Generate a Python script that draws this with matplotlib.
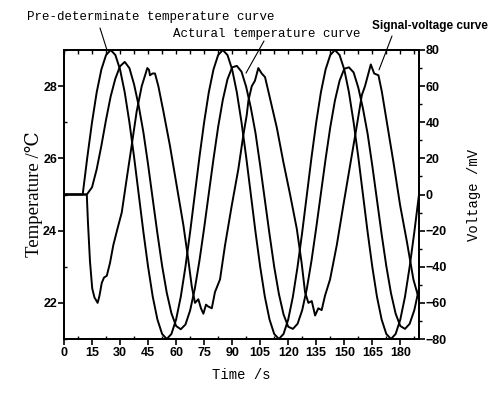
import matplotlib
matplotlib.use('Agg')
import matplotlib.pyplot as plt
import numpy as np
from matplotlib.ticker import MultipleLocator

# pre-determinate temperature (deg C)
t_pre = [0, 10] + list(np.arange(12.5, 190.1, 2.5))
temp_pre = [25.0, 25.0,
            26.04, 27.0, 27.83, 28.46, 28.86, 29.0, 28.86, 28.46, 27.83, 27.0, 26.04, 25.0,
            23.96, 23.0, 22.17, 21.54, 21.14, 21.0, 21.14, 21.54, 22.17, 23.0, 23.96, 25.0,
            26.04, 27.0, 27.83, 28.46, 28.86, 29.0, 28.86, 28.46, 27.83, 27.0, 26.04, 25.0,
            23.96, 23.0, 22.17, 21.54, 21.14, 21.0, 21.14, 21.54, 22.17, 23.0, 23.96, 25.0,
            26.04, 27.0, 27.83, 28.46, 28.86, 29.0, 28.86, 28.46, 27.83, 27.0, 26.04, 25.0,
            23.96, 23.0, 22.17, 21.54, 21.14, 21.0, 21.14, 21.54, 22.17, 23.0, 23.96, 25.0]

# actual temperature (deg C)
t_act = [0, 12] + list(np.arange(12.5, 190.1, 2.5))
temp_act = [25.0, 25.0,
            25.02, 25.2, 25.7, 26.35, 27.07, 27.72, 28.21, 28.55, 28.67, 28.5, 28.05, 27.45,
            26.72, 25.83, 24.87, 23.92, 23.03, 22.28, 21.71, 21.36, 21.27, 21.4, 21.79, 22.39,
            23.17, 24.07, 25.03, 25.98, 26.87, 27.62, 28.19, 28.52, 28.56, 28.4, 27.98, 27.4,
            26.7, 25.8, 24.85, 23.9, 23.0, 22.25, 21.68, 21.34, 21.28, 21.42, 21.8, 22.4,
            23.18, 24.08, 25.03, 25.98, 26.86, 27.6, 28.15, 28.48, 28.52, 28.38, 27.96, 27.38,
            26.68, 25.8, 24.85, 23.9, 23.02, 22.27, 21.7, 21.36, 21.28, 21.42, 21.8, 22.4]

# signal voltage (mV)
t_volt = [0, 12.2, 12.8, 13.9, 15.1, 16.3, 18.0, 19.0, 20.2, 21.4, 22.9, 24.6, 26.4, 28.6,
          30.9, 33.6, 36.2, 38.9, 41.6, 43.1, 44.6, 45.5, 46.0, 47.4, 48.7, 50.5, 53.2, 56.7,
          60.3, 63.9, 66.5, 68.4, 70.1, 71.9, 73.3, 74.6, 76.0, 77.2, 79.1, 80.8, 83.5, 86.2,
          89.8, 93.3, 96.0, 97.8, 98.7, 100.5, 102.2, 104.0, 105.8, 107.6, 110.3, 113.9, 117.4,
          121.0, 124.6, 127.2, 129.0, 130.8, 132.6, 134.4, 136.1, 137.9, 139.7, 142.4, 146.0,
          149.5, 153.1, 156.7, 159.4, 161.1, 162.4, 164.2, 166.0, 168.3, 170.1, 172.8, 176.3,
          179.9, 183.5, 187.0, 190.0]
volt = [0, 0, -15, -37, -52, -57, -60, -56, -49, -46, -45, -38, -28, -19,
        -10, 9, 27, 46, 60, 65, 70, 69, 66, 67, 67, 60, 46, 27,
        5, -17, -36, -51, -60, -58, -63, -66, -61, -62, -63, -54, -47, -28,
        -6, 14, 33, 44, 52, 60, 63, 70, 67, 65, 53, 37, 18,
        0, -19, -38, -54, -60, -59, -67, -63, -64, -56, -47, -28,
        -6, 16, 38, 55, 60, 65, 72, 67, 66, 57, 40, 18,
        -6, -26, -47, -58]

W, H = 494, 395
fig = plt.figure(figsize=(W / 100, H / 100), dpi=100)
ax = fig.add_axes([64 / W, 1 - 339 / H, 355 / W, 289 / H])
ax2 = ax.twinx()

lw = 1.4
ax.plot(t_pre, temp_pre, color='black', lw=lw)
ax.plot(t_act, temp_act, color='black', lw=lw)
ax2.plot(t_volt, volt, color='black', lw=lw)

ax.set_xlim(0, 190)
ax.set_ylim(21, 29)
ax2.set_ylim(-80, 80)

tickfont = dict(family=['Liberation Sans Narrow', 'Liberation Sans'], weight='bold', size=9)

ax.xaxis.set_major_locator(MultipleLocator(15))
ax.xaxis.set_minor_locator(MultipleLocator(7.5))
ax.yaxis.set_major_locator(MultipleLocator(2))
ax.yaxis.set_minor_locator(MultipleLocator(1))
ax2.yaxis.set_major_locator(MultipleLocator(20))
ax2.yaxis.set_minor_locator(MultipleLocator(10))

ax.tick_params(axis='x', which='major', direction='out', length=4, width=1.2, pad=2)
ax.tick_params(axis='x', which='minor', direction='in', length=2.5, width=1)
ax.tick_params(axis='y', which='major', direction='out', length=4, width=1.2, pad=1)
ax.tick_params(axis='y', which='minor', direction='in', length=2.5, width=1)
ax2.tick_params(axis='y', which='major', direction='out', length=4, width=1.2, pad=1)
ax2.tick_params(axis='y', which='minor', direction='out', length=2.5, width=1)

for lab in ax.get_xticklabels() + ax.get_yticklabels() + ax2.get_yticklabels():
    lab.set_fontproperties(matplotlib.font_manager.FontProperties(**tickfont))

top = ax.secondary_xaxis('top')
top.xaxis.set_major_locator(MultipleLocator(7.5))
top.tick_params(direction='in', length=3, width=1, labeltop=False)

for a in (ax, ax2):
    for s in a.spines.values():
        s.set_linewidth(1.3)
top.spines['top'].set_linewidth(1.3)

ax.set_xlabel('Time /s', family='Liberation Mono', size=10, labelpad=6)
ax.set_ylabel('Temperature /℃', family=['Liberation Serif', 'DejaVu Serif'], size=13.5, labelpad=0)
ax2.set_ylabel('Voltage /mV', family='Liberation Mono', size=10, labelpad=14)

# curve labels with pointer lines
fig.text(27 / W, 1 - 17 / H, 'Pre-determinate temperature curve', family='Liberation Mono',
         size=9, ha='left', va='center')
fig.text(173 / W, 1 - 34 / H, 'Actural temperature curve', family='Liberation Mono',
         size=9, ha='left', va='center')
fig.text(372 / W, 1 - 26 / H, 'Signal-voltage curve',
         family=['Liberation Sans Narrow', 'Liberation Sans'], weight='bold',
         size=8.5, ha='left', va='center')

line = dict(arrowstyle='-', color='black', lw=0.8, shrinkA=0, shrinkB=0)
ax.annotate('', xy=(23, 29), xytext=(100 / W, 1 - 28 / H),
            textcoords='figure fraction', arrowprops=line, annotation_clip=False)
ax.annotate('', xy=(97.4, 28.36), xytext=(264 / W, 1 - 41 / H),
            textcoords='figure fraction', arrowprops=line)
ax2.annotate('', xy=(168.6, 69), xytext=(392 / W, 1 - 36 / H),
             textcoords='figure fraction', arrowprops=line)

fig.savefig('out.png', dpi=100)
